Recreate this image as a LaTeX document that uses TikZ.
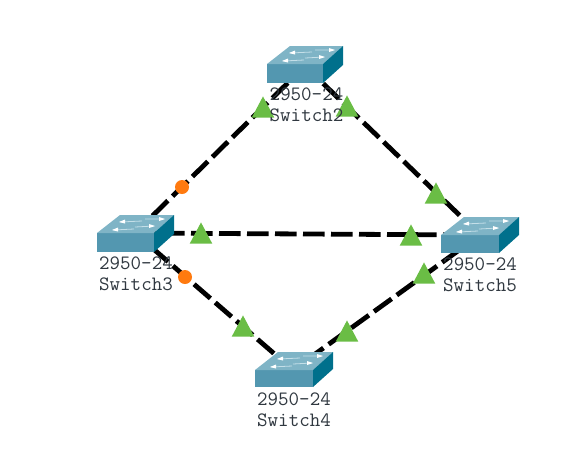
\documentclass[tikz,border=0pt]{standalone}
\usetikzlibrary{shapes.geometric}
\definecolor{swfront}{HTML}{5397B0}
\definecolor{swtop}{HTML}{7FB4C6}
\definecolor{swside}{HTML}{00708C}
\definecolor{swline}{HTML}{C4DFE8}
\definecolor{lamp}{HTML}{6ABD45}
\definecolor{warn}{HTML}{FF7A0F}
\definecolor{labelink}{HTML}{303840}
\tikzset{
  x=0.75pt,y=-0.75pt,
  hub/.style={inner sep=0pt,minimum width=42pt,minimum height=14pt},
  link/.style={line width=3.6pt,black,dash pattern=on 16.2pt off 4.8pt},
  lab/.style={inner sep=0pt,align=center,text=labelink,font=\ttfamily\fontsize{15.3pt}{15.75pt}\selectfont},
  up/.style={isosceles triangle,isosceles triangle stretches,shape border rotate=90,fill=lamp,inner sep=0pt,minimum width=17pt,minimum height=16pt,anchor=south},
  dot/.style={circle,fill=warn,inner sep=0pt,minimum size=10.5pt},
}
% #1 x, #2 y of the front face's top-left corner, #3 front width, #4 front height
\newcommand{\swbox}[4]{%
  \fill[swfront] (#1,#2) rectangle ++(#3,#4);
  \fill[swtop] (#1,#2) -- ++(23,-18) -- (#1+#3+20,#2-18) -- (#1+#3,#2) -- cycle;
  \fill[swside] (#1+#3,#2) -- ++(20,-18) -- ++(0,#4) -- ++(-20,18) -- cycle;
  \draw[swline,line width=0.6pt] (#1+16,#2-3) -- ++(21,-1) (#1+38,#2-6) -- ++(19,-1)
    (#1+23,#2-11) -- ++(22,-1) (#1+48,#2-14) -- ++(19,0);
  \fill[white] (#1+15,#2-3) -- ++(6,-2.5) -- ++(0,4) -- cycle;
  \fill[white] (#1+22,#2-11) -- ++(6,-2.5) -- ++(0,4) -- cycle;
  \fill[white] (#1+58,#2-7) -- ++(-6,-2) -- ++(0,4) -- cycle;
  \fill[white] (#1+68,#2-14) -- ++(-6,-2) -- ++(0,4) -- cycle;
}
\begin{document}
\begin{tikzpicture}
\useasboundingbox (0,0) rectangle (581,462);
\node[hub] (s2) at (305,66) {};
\node[hub] (s3) at (135,233) {};
\node[hub] (s4) at (293,370) {};
\node[hub] (s5) at (480,235) {};
\draw[link,dash phase=2.6pt] (s3.center) -- (s2.center);
\draw[link,dash phase=2pt] (s2.center) -- (s5.center);
\draw[link] (s3.center) -- (s5.center);
\draw[link,dash phase=2pt] (s4.center) -- (s3.center);
\draw[link,dash phase=2.2pt] (s5.center) -- (s4.center);
\swbox{267}{64}{56}{19}
\swbox{97}{233}{57}{19}
\swbox{255}{370}{58}{17}
\swbox{441}{235}{58}{18}
\node[dot] (o1) at (182,187) {};
\node[dot] (o2) at (185,277) {};
\node[up] (t1) at (263,118) {};
\node[up] (t2) at (347,117) {};
\node[up] (t3) at (436,204) {};
\node[up] (t4) at (411,246) {};
\node[up] (t5) at (201,244) {};
\node[up] (t6) at (424,284) {};
\node[up] (t7) at (347,342) {};
\node[up] (t8) at (243,337) {};
\node[lab] (l2) at (306.5,105) {2950-24\\Switch2};
\node[lab] (l3) at (136,274) {2950-24\\Switch3};
\node[lab] (l4) at (294,410) {2950-24\\Switch4};
\node[lab] (l5) at (480,275) {2950-24\\Switch5};
\end{tikzpicture}
\end{document}
